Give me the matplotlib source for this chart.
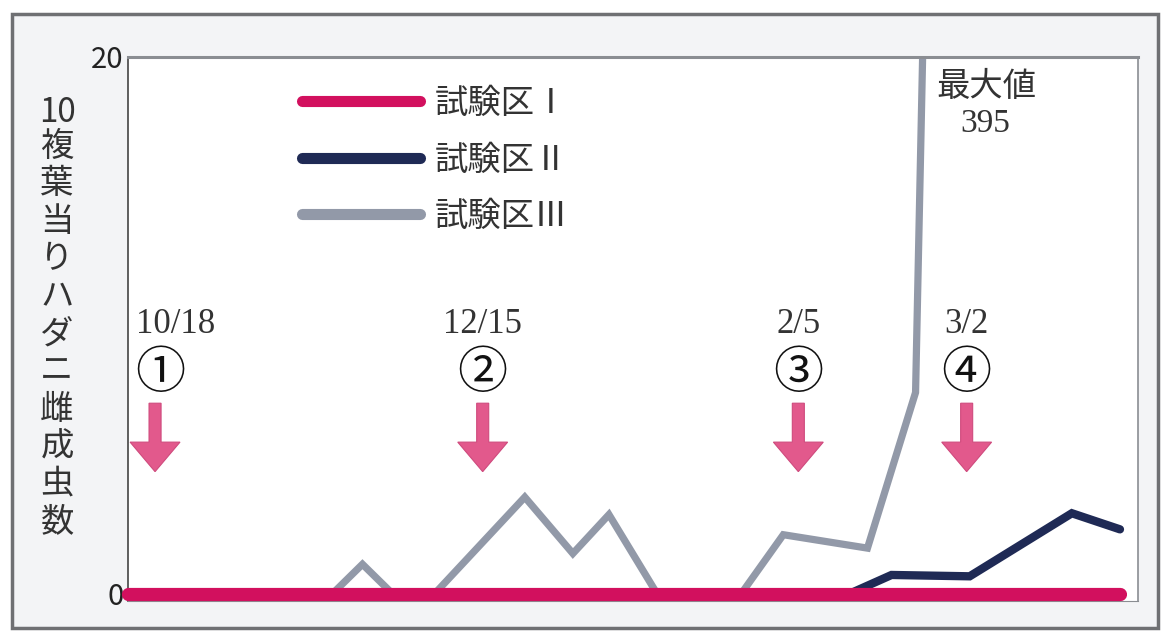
import matplotlib.pyplot as plt
from matplotlib.patches import Rectangle, FancyArrow
from matplotlib.lines import Line2D

plt.rcParams['font.family'] = ['Noto Sans CJK JP', 'DejaVu Sans']

# x: approximate days from the start of the survey
x_plot1 = [0, 165]
y_plot1 = [0, 0]

x_plot2 = [0, 120, 127, 140, 157, 165]
y_plot2 = [0, 0, 0.7, 0.65, 3.0, 2.4]

x_plot3 = [0, 34, 39, 44, 51, 66, 74, 80, 88, 102, 109, 123, 131, 138, 152]
y_plot3 = [0, 0, 1.1, 0, 0, 3.6, 1.5, 2.95, 0, 0, 2.2, 1.7, 7.5, 82, 395]

labels = ['試験区Ⅰ', '試験区Ⅱ', '試験区Ⅲ']
colors = ['#D2105E', '#1F2A55', '#9299A8']

spray_x = [4.5, 59, 111.5, 139.5]
spray_dates = ['10/18', '12/15', '2/5', '3/2']
spray_marks = ['①', '②', '③', '④']

ylabel_chars = ['10', '複', '葉', '当', 'り', 'ハ', 'ダ', 'ニ', '雌', '成', '虫', '数']

fig = plt.figure(figsize=(11.66, 6.33), dpi=100)
fig.patch.set_facecolor('white')

# outer frame of the figure panel
fig.patches.append(Rectangle((12/1166, 1 - 628/633), 1146/1166, 614/633,
                             transform=fig.transFigure, facecolor='#F3F4F6',
                             edgecolor='#6F7073', linewidth=2.5, zorder=-10))

ax = fig.add_axes([128/1166, 1 - 601/633, 1010/1166, 544/633])
ax.set_facecolor('white')

l3, = ax.plot(x_plot3, y_plot3, color=colors[2], lw=5.2, solid_joinstyle='miter', zorder=2)
l2, = ax.plot(x_plot2, y_plot2, color=colors[1], lw=6, solid_capstyle='round',
              solid_joinstyle='miter', zorder=3, clip_on=False)
l1, = ax.plot(x_plot1, y_plot1, color=colors[0], lw=9.5, solid_capstyle='round',
              zorder=4, clip_on=False)

ax.set_xlim(0, 168)
ax.set_ylim(-0.27, 20)
ax.set_xticks([])
ax.set_yticks([0, 20])
ax.set_yticklabels(['0', '20'], fontsize=21, color='#222222')
ax.tick_params(axis='y', length=0, pad=3)

for side in ['top', 'right', 'bottom']:
    ax.spines[side].set_color('#8A8D92')
ax.spines['top'].set_linewidth(2.2)
ax.spines['right'].set_linewidth(1.2)
ax.spines['bottom'].set_linewidth(0.8)
ax.spines['left'].set_color('#444444')
ax.spines['left'].set_linewidth(1.2)

# legend
handles = [Line2D([], [], color=c, lw=8, solid_capstyle='round') for c in colors]
leg = ax.legend(handles, labels, loc='upper left', bbox_to_anchor=(0.172, 0.947),
                frameon=False, fontsize=24, handlelength=3.55, handletextpad=0.45,
                labelspacing=0.65, borderpad=0, borderaxespad=0)
for t in leg.get_texts():
    t.set_color('#333333')

# spray arrows
for i in range(len(spray_x)):
    xa = spray_x[i]
    ax.add_patch(FancyArrow(xa, 7.1, 0, -2.55, width=2.0, head_width=8.3,
                            head_length=1.1, length_includes_head=True,
                            facecolor='#E2598C', edgecolor='#CF4A7D', lw=0.8,
                            zorder=5))
    ax.text(xa + (0.8 if i == 0 else 0), 8.2, spray_marks[i], ha='center', va='center',
            fontsize=36, color='#111111', zorder=6)
    ax.text(xa + (3.5 if i == 0 else 0), 10.05, spray_dates[i], ha='center', va='center',
            fontsize=25, family='Liberation Serif', color='#333333', zorder=6)

ax.text(142.8, 18.9, '最大値', ha='center', va='center', fontsize=24, color='#333333')
ax.text(142.6, 17.5, '395', ha='center', va='center', fontsize=24,
        family='Liberation Serif', color='#333333')

# vertical y label, one character per row
for i, ch in enumerate(ylabel_chars):
    ypx = 113 if i == 0 else 146 + (i - 1) * 37.6
    fig.text(57/1166, 1 - ypx/633, ch, ha='center', va='center',
             fontsize=24, color='#333333')

plt.savefig('out.png', dpi=100)
